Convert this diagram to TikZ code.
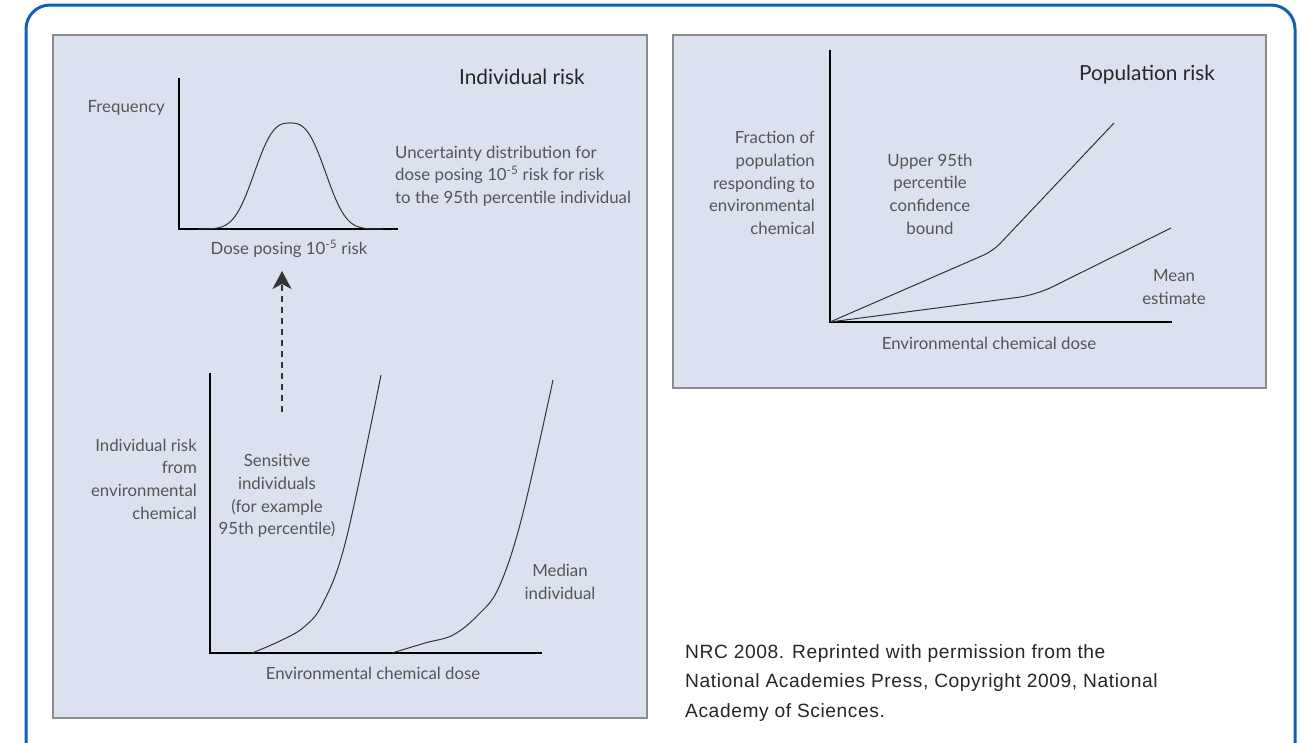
\documentclass[tikz,border=0pt]{standalone}
\usepackage{fontspec}
\setmainfont{Lato}
\newfontfamily\capfont[LetterSpace=3]{Liberation Sans}
\usetikzlibrary{arrows.meta}

\definecolor{frameblue}{RGB}{20,94,180}
\definecolor{panelfill}{RGB}{220,225,240}
\definecolor{labelgray}{RGB}{85,85,85}

\begin{document}
\begin{tikzpicture}[
    x=1pt, y=-1pt,
    frame/.style = {draw=frameblue, line width=3pt, rounded corners=24pt},
    panel/.style = {draw=black!45, line width=1.6pt, fill=panelfill},
    axis/.style = {draw=black, line width=2.2pt},
    curve/.style = {draw=black!80, line width=1pt},
    label/.style = {text=labelgray, font=\fontsize{16.8}{22.6}\selectfont, inner sep=0pt},
    title/.style = {text=black!85, font=\fontsize{20.8}{24}\selectfont, inner sep=0pt},
    caption/.style = {text=black!85, font=\capfont\fontsize{19.2}{29.5}\selectfont, inner sep=0pt, align=left, anchor=base west},
    dasharrow/.style = {draw=black!80, line width=1.6pt, dash pattern=on 6pt off 5pt, -{Stealth[length=18pt, width=19pt, inset=5pt]}}
  ]
  \useasboundingbox (0,0) rectangle (1303,742);
  \clip (0,0) rectangle (1303,742);
  \path[frame] (26,5) rectangle (1295,770);

  % individual risk
  \path[panel] (53,35) rectangle (647,718);
  \node (indtitle) [title] at (522,77) {Individual risk};

  \coordinate (fO) at (179,229);
  \coordinate (fY) at (179,78);
  \coordinate (fX) at (398,229);
  \path[axis] (fY) -- (fO) -- (fX);
  \draw[curve] plot[domain=198:383, samples=90] (\x, {229-106*exp(-(abs(\x-290)/42)^2.8)});
  \node (freq) [label, anchor=east] at (165,108) {Frequency};
  \node (doselabel) [label] at (289,249) {Dose posing 10\textsuperscript{-5} risk};
  \node (uncert) [label, align=left, anchor=west] at (395,176) {Uncertainty distribution for\\dose posing 10\textsuperscript{-5} risk for risk\\to the 95th percentile individual};

  \coordinate (arrowbot) at (282,412);
  \coordinate (arrowtop) at (282,271);
  \path[dasharrow] (arrowbot) -- (arrowtop);

  \coordinate (iO) at (210,653);
  \coordinate (iY) at (210,373);
  \coordinate (iX) at (542,653);
  \path[axis] (iY) -- (iO) -- (iX);
  \draw[curve] plot[smooth, tension=0.6] coordinates {(252,653) (280,641) (304,627) (323,603) (346,540) (381,375)};
  \draw[curve] plot[smooth, tension=0.6] coordinates {(392,653) (425,643) (453,635) (478,615) (499,587) (522,517) (553,380)};
  \node (indrisk) [label, align=right, anchor=east] at (197,479) {Individual risk\\from\\environmental\\chemical};
  \node (sensitive) [label, align=center] at (277,496) {Sensitive\\individuals\\(for example\\95th percentile)};
  \node (median) [label, align=center] at (560,582) {Median\\individual};
  \node (inddose) [label] at (373,673) {Environmental chemical dose};

  % population risk
  \path[panel] (673,35) rectangle (1266,388);
  \node (poptitle) [title] at (1147,75) {Population risk};

  \coordinate (pO) at (830,322);
  \coordinate (pY) at (830,50);
  \coordinate (pX) at (1172,322);
  \path[axis] (pY) -- (pO) -- (pX);
  \draw[curve, rounded corners=10pt] (pO) -- (993,251) -- (1114,123);
  \draw[curve, rounded corners=18pt] (pO) -- (1036,295) -- (1171,228);
  \node (fraction) [label, align=right, anchor=east] at (815,183) {Fraction of\\population\\responding to\\environmental\\chemical};
  \node (upper) [label, align=center] at (930,194) {Upper 95th\\percentile\\confidence\\bound};
  \node (mean) [label, align=center] at (1174,287) {Mean\\estimate};
  \node (popdose) [label] at (989,343) {Environmental chemical dose};

  \node (source) [caption] at (685,717) {NRC 2008. Reprinted with permission from the\\National Academies Press, Copyright 2009, National\\Academy of Sciences.};
\end{tikzpicture}
\end{document}
